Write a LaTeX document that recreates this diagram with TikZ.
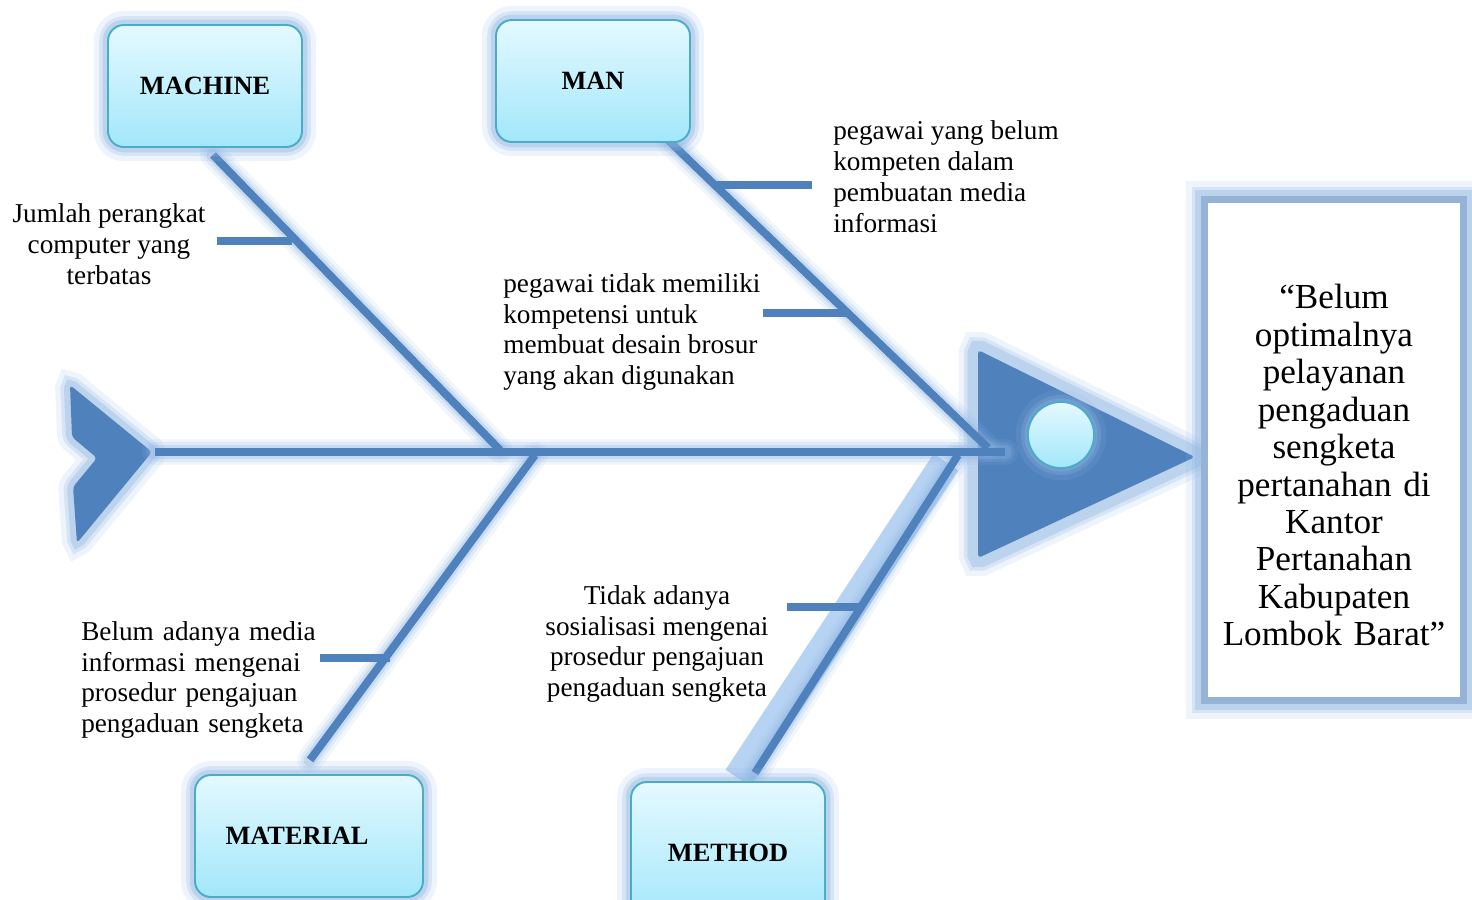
\documentclass[tikz,border=0pt]{standalone}
\usepackage{fontspec}
\setmainfont{Liberation Serif}
\usetikzlibrary{positioning}
\definecolor{bonecol}{RGB}{79,129,189}
\definecolor{glowcol}{RGB}{141,180,226}
\definecolor{bandcol}{RGB}{165,200,240}
\definecolor{boxtop}{RGB}{228,249,255}
\definecolor{boxbot}{RGB}{162,231,250}
\definecolor{boxline}{RGB}{75,172,198}
\definecolor{effline}{RGB}{149,179,215}

% soft halo along a bone
\newcommand{\glowline}[2]{%
  \foreach \w/\o in {15/.12, 11/.18, 7.5/.3}
    \draw[glowcol, line width=\w pt, opacity=\o, line cap=round] (#1) -- (#2);}

\begin{document}
\begin{tikzpicture}[
  x=0.02cm, y=-0.02cm,
  bone/.style={draw=bonecol, line width=4.5pt},
  halo/.style={preaction={draw=glowcol, line width=#1+10pt, opacity=.15},
    preaction={draw=glowcol, line width=#1+4pt, opacity=.25},
    preaction={draw=glowcol, line width=#1, opacity=.35}},
  catbox/.style={rectangle, rounded corners=9pt, draw=boxline, line width=1.1pt,
    top color=boxtop, bottom color=boxbot, minimum width=3.88cm, minimum height=2.44cm,
    font=\fontsize{15}{18}\selectfont\bfseries, halo=6pt},
  note/.style={font=\fontsize{15.5}{17.6}\selectfont, inner sep=0pt},
]
  \useasboundingbox (0,0) rectangle (1472,900);

  % Head and tail
  \fill[bonecol, rounded corners=2pt, halo=12pt]
    (978,350) -- (1195,457) -- (978,558) -- cycle;
  \fill[bonecol, rounded corners=2pt, halo=7pt]
    (70,385) -- (152,452) -- (77,543) -- (73,487) -- (97,458) -- (72,437) -- cycle;
  \node[circle, draw=boxline, line width=1pt, top color=boxtop, bottom color=boxbot,
    minimum size=1.32cm, halo=4pt] (eye) at (1061,435) {};

  % Ends of the bones
  \coordinate (tail) at (155,452);
  \coordinate (spineEnd) at (1005,452);
  \coordinate (mcTop) at (213,155);
  \coordinate (mcEnd) at (500,450);
  \coordinate (mnTop) at (668,140);
  \coordinate (mnEnd) at (988,448);
  \coordinate (mtBot) at (310,760);
  \coordinate (mtEnd) at (535,455);
  \coordinate (mdBot) at (755,773);
  \coordinate (mdEnd) at (958,455);

  % Glow
  \draw[bandcol, line width=17pt, opacity=.8] (738,778) -- (946,462);
  \glowline{tail}{spineEnd}
  \glowline{mcTop}{mcEnd}
  \glowline{mnTop}{mnEnd}
  \glowline{mtBot}{mtEnd}
  \glowline{mdBot}{mdEnd}

  % Bones
  \draw[bone] (tail) -- (spineEnd);
  \draw[bone] (mcTop) -- (mcEnd);
  \draw[bone] (mnTop) -- (mnEnd);
  \draw[bone] (mtBot) -- (mtEnd);
  \draw[bone] (mdBot) -- (mdEnd);

  % Sub-bones
  \coordinate (mcA) at (217,241);   \coordinate (mcB) at (292,241);
  \coordinate (mnA) at (715,185);   \coordinate (mnB) at (812,185);
  \coordinate (mnC) at (763,313);   \coordinate (mnD) at (846,313);
  \coordinate (mtA) at (320,658);   \coordinate (mtB) at (390,658);
  \coordinate (mdA) at (787,607);   \coordinate (mdB) at (861,607);
  \draw[bone] (mcA) -- (mcB);
  \draw[bone] (mnA) -- (mnB);
  \draw[bone] (mnC) -- (mnD);
  \draw[bone] (mtA) -- (mtB);
  \draw[bone] (mdA) -- (mdB);

  % Categories
  \node[catbox] (machine) at (205,86) {MACHINE};
  \node[catbox] (man) at (593,81) {MAN};
  \node[catbox, minimum width=4.56cm] (material) at (309,836) {MATERIAL\rule{0.48cm}{0pt}};
  \node[catbox, minimum height=2.84cm] (method) at (728,853) {METHOD};

  % Effect
  \node[rectangle, draw=effline, line width=4pt, fill=white, minimum width=5.2cm,
    minimum height=10.04cm, text width=4.9cm, align=center,
    font=\fontsize{20}{21.3}\selectfont, halo=10pt] (effect) at (1334,450)
    {\rule{0pt}{1.1cm}“Belum\\optimalnya\\pelayanan\\pengaduan\\sengketa\\pertanahan di\\Kantor\\Pertanahan\\Kabupaten\\Lombok Barat”};

  % Causes
  \node[note, align=center] (c1) at (109,244) {Jumlah perangkat\\computer yang\\terbatas};
  \node[note, align=left, anchor=west] (c2) at (833,177)
    {pegawai yang belum\\kompeten dalam\\pembuatan media\\informasi};
  \node[note, align=left, anchor=west] (c3) at (503,332)
    {pegawai tidak memiliki\\kompetensi untuk\\membuat desain brosur\\yang akan digunakan};
  \node[note, align=left, text width=4.75cm] (c4) at (200,680)
    {\makebox[\linewidth][s]{Belum adanya media}\\\makebox[\linewidth][s]{informasi mengenai}\\
     \makebox[\linewidth][s]{prosedur pengajuan}\\\makebox[\linewidth][s]{pengaduan sengketa}};
  \node[note, align=center] (c5) at (657,644)
    {Tidak adanya\\sosialisasi mengenai\\prosedur pengajuan\\pengaduan sengketa};
\end{tikzpicture}
\end{document}
